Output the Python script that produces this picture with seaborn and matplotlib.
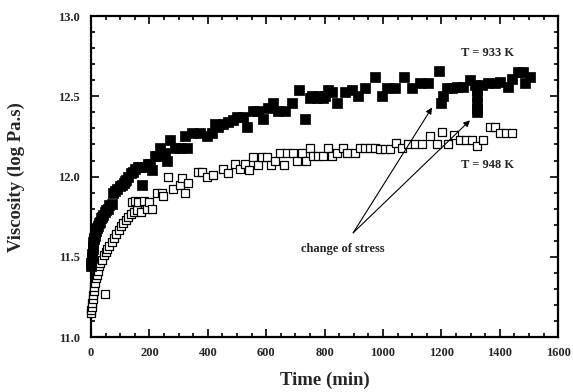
import matplotlib
matplotlib.use("Agg")
import matplotlib.pyplot as plt
import seaborn as sns
import pandas as pd
from matplotlib.ticker import MultipleLocator

# ---- data: T = 933 K (filled squares) ----
t933 = [0, 1, 2, 3, 4, 5, 6, 8, 9, 11, 13, 15, 18, 20, 23, 26, 30, 34, 38, 42,
        47, 52, 57, 63, 70, 75, 82, 90, 98, 105, 112, 116, 120, 128, 136, 144, 152,
        161, 168, 175, 185, 195, 202, 209, 219, 226, 236, 245, 253, 260, 271, 288,
        305, 322, 329, 346, 373, 397, 415, 425, 435, 452, 469, 487, 500, 521, 534,
        555, 572, 589, 607, 624, 641, 665, 689, 713, 733, 750, 757, 774, 778, 795,
        802, 812, 825, 843, 870, 894, 915, 939, 973, 997, 1014, 1041, 1072, 1100,
        1127, 1155, 1192, 1199, 1206, 1220, 1237, 1254, 1274, 1298, 1315, 1322,
        1322, 1322, 1323, 1323, 1339, 1360, 1384, 1401, 1428, 1442, 1463, 1480,
        1487, 1504]
v933 = [11.46, 11.44, 11.49, 11.52, 11.50, 11.55, 11.57, 11.59, 11.61, 11.62,
        11.63, 11.65, 11.66, 11.68, 11.69, 11.71, 11.72, 11.74, 11.75, 11.76,
        11.78, 11.79, 11.80, 11.82, 11.83, 11.90, 11.91, 11.92, 11.94, 11.95,
        11.96, 11.97, 11.98, 12.00, 12.02, 12.03, 12.05, 12.06, 12.06, 11.95,
        12.06, 12.08, 12.08, 12.04, 12.13, 12.13, 12.18, 12.14, 12.15, 12.10,
        12.23, 12.18, 12.18, 12.25, 12.18, 12.27, 12.27, 12.25, 12.27, 12.33,
        12.31, 12.33, 12.34, 12.35, 12.37, 12.37, 12.31, 12.41, 12.41, 12.36,
        12.43, 12.46, 12.41, 12.41, 12.46, 12.54, 12.36, 12.49, 12.50, 12.49,
        12.50, 12.49, 12.50, 12.54, 12.53, 12.46, 12.53, 12.54, 12.50, 12.55,
        12.62, 12.50, 12.55, 12.55, 12.62, 12.55, 12.58, 12.58, 12.66, 12.46,
        12.50, 12.55, 12.55, 12.56, 12.56, 12.60, 12.57, 12.54, 12.50, 12.46,
        12.42, 12.40, 12.57, 12.58, 12.58, 12.59, 12.56, 12.61, 12.65, 12.65,
        12.58, 12.62]

# ---- data: T = 948 K (open squares) ----
t948 = [0, 1, 2, 3, 5, 7, 9, 11, 14, 17, 20, 24, 28, 32, 38, 44, 48, 50, 56, 63,
        70, 78, 86, 94, 102, 110, 118, 127, 136, 140, 146, 152, 156, 160, 170, 180,
        192, 200, 209, 226, 243, 247, 264, 281, 305, 312, 322, 332, 366, 380, 397,
        418, 452, 469, 493, 510, 528, 541, 555, 572, 586, 603, 617, 630, 648, 661,
        671, 692, 706, 723, 737, 750, 761, 778, 795, 812, 826, 843, 863, 877, 904,
        922, 939, 956, 973, 990, 1007, 1024, 1045, 1065, 1086, 1110, 1134, 1161,
        1185, 1202, 1223, 1244, 1264, 1285, 1305, 1322, 1343, 1367, 1384, 1401,
        1422, 1442]
v948 = [11.15, 11.17, 11.19, 11.21, 11.24, 11.26, 11.29, 11.31, 11.34, 11.37,
        11.39, 11.41, 11.44, 11.46, 11.48, 11.51, 11.27, 11.53, 11.55, 11.57,
        11.59, 11.62, 11.64, 11.67, 11.69, 11.71, 11.73, 11.75, 11.77, 11.84,
        11.78, 11.85, 11.79, 11.84, 11.78, 11.85, 11.80, 11.84, 11.80, 11.90,
        11.90, 11.88, 12.00, 11.92, 11.95, 11.99, 11.90, 11.96, 12.03, 12.03,
        12.00, 12.01, 12.05, 12.02, 12.08, 12.05, 12.08, 12.04, 12.12, 12.07,
        12.12, 12.12, 12.07, 12.10, 12.15, 12.07, 12.15, 12.15, 12.10, 12.15,
        12.10, 12.18, 12.13, 12.13, 12.13, 12.18, 12.13, 12.15, 12.18, 12.15,
        12.15, 12.18, 12.18, 12.18, 12.18, 12.17, 12.17, 12.17, 12.21, 12.18,
        12.20, 12.20, 12.20, 12.25, 12.20, 12.28, 12.20, 12.26, 12.23, 12.23,
        12.23, 12.19, 12.23, 12.31, 12.31, 12.27, 12.27, 12.27]

xticks = [0, 200, 400, 600, 800, 1000, 1200, 1400, 1600]
yticks = [11.0, 11.5, 12.0, 12.5, 13.0]

sns.set_theme(style="ticks")
plt.rcParams["font.family"] = ["Liberation Serif", "DejaVu Serif"]
plt.rcParams["font.weight"] = "bold"

df933 = pd.DataFrame({"t": t933, "v": v933})
df948 = pd.DataFrame({"t": t948, "v": v948})

fig = plt.figure(figsize=(5.73, 3.92), dpi=100)
ax = fig.add_axes([0.159, 0.140, 0.815, 0.819])

sns.scatterplot(data=df948, x="t", y="v", ax=ax, marker="s", s=36,
                facecolor="white", edgecolor="black", linewidth=0.9, zorder=3,
                clip_on=False)
sns.scatterplot(data=df933, x="t", y="v", ax=ax, marker="s", s=42,
                color="black", edgecolor="black", linewidth=0.5, zorder=4,
                clip_on=False)

ax.set_xlim(0, 1600)
ax.set_ylim(11.0, 13.0)
ax.set_xticks(xticks)
ax.set_yticks(yticks)
ax.set_xticklabels([str(x) for x in xticks])
ax.set_yticklabels([f"{y:.1f}" for y in yticks])
ax.xaxis.set_minor_locator(MultipleLocator(50))
ax.yaxis.set_minor_locator(MultipleLocator(0.1))
ax.tick_params(which="both", direction="in", top=True, right=True,
               labelsize=9, width=1.2, color="black")
ax.tick_params(which="major", length=6)
ax.tick_params(which="minor", length=3)
ax.tick_params(axis="x", which="major", pad=7)
ax.tick_params(axis="y", which="major", pad=8)
for lab in ax.get_xticklabels() + ax.get_yticklabels():
    lab.set_fontweight("bold")
for sp in ax.spines.values():
    sp.set_linewidth(1.6)
    sp.set_color("black")

ax.set_xlabel("Time (min)", fontsize=13.5, fontweight="bold", labelpad=9)
ax.set_ylabel("Viscosity (log Pa.s)", fontsize=13.5, fontweight="bold", labelpad=24)

ax.text(1357, 12.77, "T = 933 K", ha="center", va="center", fontsize=9, fontweight="bold")
ax.text(1357, 12.07, "T = 948 K", ha="center", va="center", fontsize=9, fontweight="bold")
ax.text(863, 11.55, "change of stress", ha="center", va="center", fontsize=9, fontweight="bold")

apex = (898, 11.65)
for head in [(1168, 12.43), (1298, 12.35)]:
    ax.annotate("", xy=head, xytext=apex,
                arrowprops=dict(arrowstyle="-|>", color="black", lw=0.8,
                                mutation_scale=9, shrinkA=0, shrinkB=0))

fig.savefig("out.png", dpi=100)
